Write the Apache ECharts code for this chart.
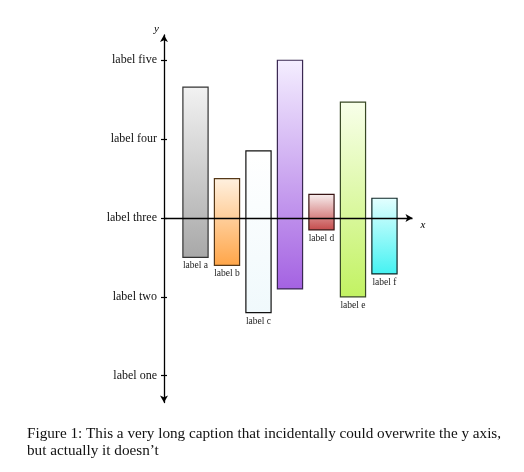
<!DOCTYPE html>
<html>
<head>
<meta charset="UTF-8">
<script src="https://cdn.jsdelivr.net/npm/echarts@6/dist/echarts.min.js"></script>
<style>html,body{margin:0;background:#fff}</style>
</head>
<body>
<div id="chart" style="width:524px;height:472px"></div>
<script>
// bar data (y scale: label one = 1 ... label five = 5)
const xPos = [1, 2, 3, 4, 5, 6, 7];
const lowValues = [2.50, 2.40, 1.80, 2.10, 2.85, 2.00, 2.29];
const highValues = [4.66, 3.50, 3.85, 5.00, 3.30, 4.47, 3.25];
const barLabels = ['label a', 'label b', 'label c', '', 'label d', 'label e', 'label f'];
const yTicks = [1, 2, 3, 4, 5];
const yTickLabels = ['label one', 'label two', 'label three', 'label four', 'label five'];
const baseline = 3;

const topColors = ['#f2f2f2', '#fff1e0', '#ffffff', '#f4eeff', '#f8f0f0', '#f8ffea', '#e4ffff'];
const bottomColors = ['#a8a8a8', '#ffa548', '#f0f9fc', '#a462e2', '#c44a4a', '#c2f262', '#44f2f2'];
const borderColors = ['#333333', '#553818', '#111111', '#3a2852', '#381414', '#384824', '#0e2626'];

const serif = '"Liberation Serif", "DejaVu Serif", serif';

const chart = echarts.init(document.getElementById('chart'));

function renderItem(params, api) {
  const i = params.dataIndex;
  const x = api.value(0);
  const lo = api.coord([x - 0.4, api.value(1)]);
  const hi = api.coord([x + 0.4, api.value(2)]);
  return {
    type: 'group',
    children: [
      {
        type: 'rect',
        shape: { x: lo[0], y: hi[1], width: hi[0] - lo[0], height: lo[1] - hi[1] },
        style: {
          fill: new echarts.graphic.LinearGradient(0, 0, 0, 1, [
            { offset: 0, color: topColors[i] },
            { offset: 1, color: bottomColors[i] }
          ]),
          stroke: borderColors[i],
          lineWidth: 1.2
        }
      },
      {
        type: 'text',
        style: {
          text: barLabels[i],
          x: (lo[0] + hi[0]) / 2,
          y: lo[1] + 3.5,
          align: 'center',
          verticalAlign: 'top',
          fontFamily: serif,
          fontSize: 9.5,
          fill: '#222'
        }
      }
    ]
  };
}

const tickLabel = v => yTickLabels[yTicks.indexOf(v)] || '';

const option = {
  animation: false,
  title: {
    text: 'Figure 1: This a very long caption that incidentally could overwrite the y axis,\nbut actually it doesn\u2019t',
    left: 27,
    top: 425,
    padding: 0,
    textStyle: { fontFamily: serif, fontSize: 15.2, fontWeight: 'normal', color: '#111', lineHeight: 17.5 }
  },
  grid: { left: 164, right: 111.5, top: 35, bottom: 69.5 },
  xAxis: { type: 'value', min: 0, max: 7.89, show: false },
  yAxis: {
    type: 'value',
    min: 0.66,
    max: 5.32,
    position: 'left',
    name: 'y',
    nameLocation: 'end',
    nameGap: 0,
    nameTextStyle: { fontFamily: serif, fontStyle: 'italic', fontSize: 11, color: '#000', align: 'right', padding: [0, 5, 0, 0] },
    axisLine: { show: true, onZero: false, symbol: ['arrow', 'arrow'], symbolSize: [6, 7], lineStyle: { color: '#000', width: 1.3 } },
    axisTick: { show: true, length: 3, customValues: yTicks, lineStyle: { color: '#000', width: 1.2 } },
    axisLabel: { customValues: yTicks, formatter: tickLabel, margin: 7, fontFamily: serif, fontSize: 12, color: '#111' },
    // only the first 3px of each split line are drawn: the right half of the crossing ticks
    splitLine: { show: true, lineStyle: { color: '#000', width: 1.2, type: [3, 2000] } }
  },
  series: [
    {
      type: 'custom',
      renderItem: renderItem,
      encode: { x: 0, y: [1, 2] },
      data: xPos.map((x, i) => [x, lowValues[i], highValues[i]]),
      markLine: {
        silent: true,
        symbol: ['none', 'arrow'],
        symbolSize: [6, 7],
        lineStyle: { color: '#000', width: 1.3, type: 'solid' },
        label: { show: true, position: 'end', formatter: 'x', offset: [2, 7], fontFamily: serif, fontStyle: 'italic', fontSize: 11, color: '#000', distance: 6 },
        data: [{ yAxis: baseline }]
      }
    }
  ]
};

chart.setOption(option);
</script>
</body>
</html>
